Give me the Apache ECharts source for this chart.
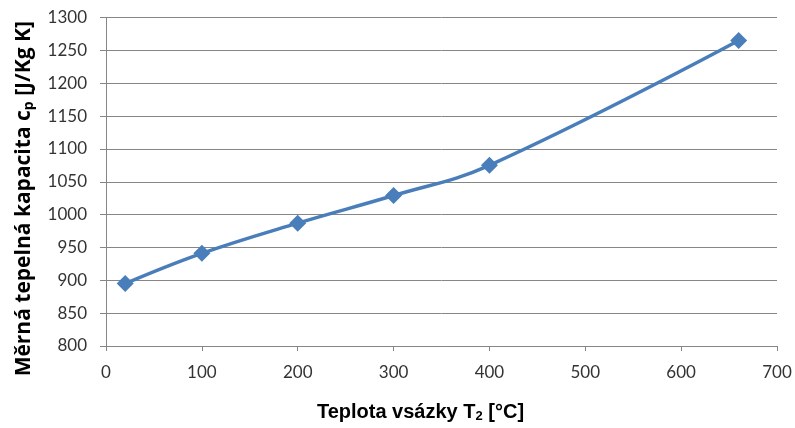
<!DOCTYPE html>
<html lang="cs">
<head>
    <meta charset="UTF-8">
    <title>Měrná tepelná kapacita</title>
    <style>
    html, body { margin: 0; padding: 0; background: #fff; }
    #main { width: 795px; height: 428px; }
    </style>
</head>
<body>
<div id="main"></div>
<script src="https://cdn.jsdelivr.net/npm/echarts@6/dist/echarts.min.js"></script>
<script>
// teplota vsázky [°C] a měrná tepelná kapacita [J/Kg K]
var teplota = [20, 100, 200, 300, 400, 660];
var kapacita = [895, 941, 987, 1029, 1075, 1265];
var xTicks = [0, 100, 200, 300, 400, 500, 600, 700];
var yTicks = [800, 850, 900, 950, 1000, 1050, 1100, 1150, 1200, 1250, 1300];

var points = teplota.map(function (t, i) { return [t, kapacita[i]]; });
var gridColor = '#868686';
var labelFont = 'Lato, "Open Sans", sans-serif';
var titleFont = '"Open Sans", Lato, sans-serif';

var myChart = echarts.init(document.getElementById('main'));
var option = {
    animation: false,
    grid: { left: 106, right: 18, top: 17.5, bottom: 80.5 },
    xAxis: {
        type: 'value',
        min: xTicks[0],
        max: xTicks[xTicks.length - 1],
        interval: 100,
        name: 'Teplota vsázky T{sub|2} [°C]',
        nameLocation: 'middle',
        nameGap: 56,
        nameTextStyle: {
            fontFamily: '"Liberation Sans", Arial, sans-serif',
            fontWeight: 'bold',
            fontSize: 20,
            color: '#000',
            padding: [0, 42, 0, 0],
            rich: {
                sub: { fontFamily: '"Liberation Sans", Arial, sans-serif', fontWeight: 'bold', fontSize: 13, verticalAlign: 'bottom', padding: [8, 0, 0, 0], color: '#000' }
            }
        },
        axisLine: { lineStyle: { color: gridColor, width: 1 } },
        axisTick: { show: true, length: 5, lineStyle: { color: gridColor } },
        axisLabel: { fontFamily: labelFont, fontSize: 17, color: '#333', margin: 18, formatter: function (v) { return String(v); } },
        splitLine: { show: false }
    },
    yAxis: {
        type: 'value',
        min: yTicks[0],
        max: yTicks[yTicks.length - 1],
        interval: 50,
        name: 'Měrná tepelná kapacita c{sub|p} [J/Kg K]',
        nameLocation: 'middle',
        nameGap: 70,
        nameTextStyle: {
            fontFamily: titleFont,
            fontWeight: 'bold',
            fontSize: 21,
            color: '#000',
            padding: [0, 34, 0, 0],
            rich: {
                sub: { fontFamily: titleFont, fontWeight: 'bold', fontSize: 14, verticalAlign: 'bottom', padding: [9, 0, 0, 0], color: '#000' }
            }
        },
        axisLine: { show: true, lineStyle: { color: gridColor, width: 1 } },
        axisTick: { show: true, length: 6, lineStyle: { color: gridColor } },
        axisLabel: { fontFamily: labelFont, fontSize: 17, color: '#333', margin: 19, formatter: function (v) { return String(v); } },
        splitLine: { show: true, lineStyle: { color: gridColor, width: 1 } }
    },
    series: [{
        type: 'line',
        data: points,
        smooth: 0.4,
        symbol: 'diamond',
        symbolSize: 17,
        lineStyle: { color: '#4A7EBB', width: 3.5 },
        itemStyle: { color: '#4A7EBB' }
    }]
};
myChart.setOption(option);
</script>
</body>
</html>
